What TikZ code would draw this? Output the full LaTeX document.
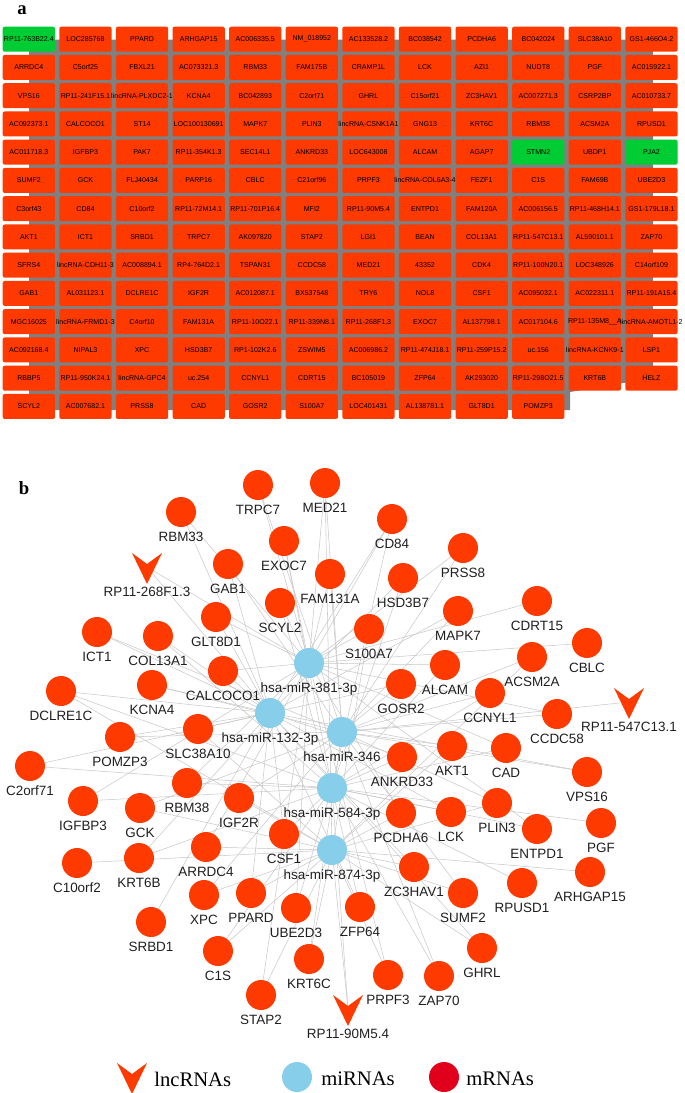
\documentclass[tikz,border=0pt]{standalone}
\usepackage{fontspec}
\setmainfont{Liberation Serif}
\setsansfont{Liberation Sans}
\usetikzlibrary{backgrounds}

\definecolor{nodered}{RGB}{255,58,0}
\definecolor{boxgreen}{RGB}{0,204,51}
\definecolor{mirblue}{RGB}{135,206,235}
\definecolor{legred}{RGB}{224,0,27}
\definecolor{edgegray}{RGB}{200,200,200}
\definecolor{gridgray}{RGB}{128,128,128}

\tikzset{
  genebox/.style={fill=nodered, rounded corners=1.5pt, minimum width=39.2pt, minimum height=18.75pt, inner sep=0pt},
  genetext/.style={font=\sffamily\fontsize{5.3}{6}\selectfont, inner sep=0pt},
  box1-1/.style={fill=boxgreen}, box5-10/.style={fill=boxgreen}, box5-12/.style={fill=boxgreen},
  mrna/.style={circle, fill=nodered, minimum size=22.5pt, inner sep=0pt},
  mirna/.style={circle, fill=mirblue, minimum size=22.5pt, inner sep=0pt},
  lnc/.style={circle, minimum size=22.5pt, inner sep=0pt},
  every label/.style={font=\sffamily\fontsize{10.1}{12}\selectfont, text=black!88},
  link/.style={draw=edgegray, line width=0.4pt},
  legtext/.style={font=\fontsize{15.5}{18}\selectfont, inner sep=0pt, anchor=west},
  panel/.style={font=\bfseries\fontsize{14}{16}\selectfont, inner sep=0pt},
  chevron/.pic={\fill[nodered] (-15,-14) -- (0,-3) -- (15,-14) -- (0,17) -- cycle;}
}

\def\generows{
 {RP11-763B22.4,LOC285768,PPARD,ARHGAP15,AC006335.5,NM\_018952,AC133528.2,BC038542,PCDHA6,BC042024,SLC38A10,GS1-466O4.2},
 {ARRDC4,C5orf25,FBXL21,AC073321.3,RBM33,FAM175B,CRAMP1L,LCK,AZI1,NUDT8,PGF,AC015922.1},
 {VPS16,RP11-241F15.1,lincRNA-PLXDC2-1,KCNA4,BC042893,C2orf71,GHRL,C15orf21,ZC3HAV1,AC007271.3,CSRP2BP,AC010733.7},
 {AC092373.1,CALCOCO1,ST14,LOC100130691,MAPK7,PLIN3,lincRNA-CSNK1A1,GNG13,KRT6C,RBM38,ACSM2A,RPUSD1},
 {AC011718.3,IGFBP3,PAK7,RP11-354K1.3,SEC14L1,ANKRD33,LOC643008,ALCAM,AGAP7,STMN2,UBDP1,PJA2},
 {SUMF2,GCK,FLJ40434,PARP16,CBLC,C21orf96,PRPF3,lincRNA-COL6A3-4,FEZF1,C1S,FAM69B,UBE2D3},
 {C3orf43,CD84,C10orf2,RP11-72M14.1,RP11-701P16.4,MFI2,RP11-90M5.4,ENTPD1,FAM120A,AC006156.5,RP11-468H14.1,GS1-179L18.1},
 {AKT1,ICT1,SRBD1,TRPC7,AK097820,STAP2,LGI1,BEAN,COL13A1,RP11-547C13.1,AL590101.1,ZAP70},
 {SFRS4,lincRNA-CDH11-3,AC008894.1,RP4-764D2.1,TSPAN31,CCDC58,MED21,43352,CDK4,RP11-100N20.1,LOC348926,C14orf109},
 {GAB1,AL031123.1,DCLRE1C,IGF2R,AC012087.1,BX537548,TRY6,NOL8,CSF1,AC095032.1,AC022311.1,RP11-191A15.4},
 {MGC16025,lincRNA-FRMD1-3,C4orf10,FAM131A,RP11-10O22.1,RP11-339N8.1,RP11-268F1.3,EXOC7,AL137798.1,AC017104.6,RP11-135M8\_\_A,lincRNA-AMOTL1-2},
 {AC092168.4,NIPAL3,XPC,HSD3B7,RP1-102K2.6,ZSWIM5,AC006986.2,RP11-474J18.1,RP11-259P15.2,uc.156,lincRNA-KCNK9-1,LSP1},
 {RBBP5,RP11-950K24.1,lincRNA-GPC4,uc.254,CCNYL1,CDRT15,BC105019,ZFP64,AK293020,RP11-298O21.5,KRT6B,HELZ},
 {SCYL2,AC007682.1,PRSS8,CAD,GOSR2,S100A7,LOC401431,AL138781.1,GLT8D1,POMZP3}}

\begin{document}
\begin{tikzpicture}[x=0.75pt, y=-0.75pt]
  \useasboundingbox (0,0) rectangle (685,1093);

  % Panel a: grid of genes
  \node[panel] (pa) at (22,10) {a};
  \fill[gridgray] (29,39.5) -- (653,39.5) -- (653,378) -- (570,392) -- (570,410) -- (29,410) -- cycle;
  \foreach \rowlist [count=\r] in \generows {
    \foreach \g [count=\c] in \rowlist {
      \node[genebox, box\r-\c/.try] (g\r-\c) at ({28.85+(\c-1)*56.6},{39.2+(\r-1)*28.25}) {};
    }
  }
  \foreach \rowlist [count=\r] in \generows {
    \foreach \g [count=\c] in \rowlist {
      \node[genetext] (t\r-\c) at (g\r-\c) {\g};
    }
  }

  % Panel b: network
  \node[panel] (pb) at (24,488) {b};

  % miRNAs
  \node[mirna, label=below:hsa-miR-381-3p] (mir381) at (309,663) {};
  \node[mirna, label=below:hsa-miR-132-3p] (mir132) at (270,713) {};
  \node[mirna, label=below:hsa-miR-346]    (mir346) at (342,732) {};
  \node[mirna, label=below:hsa-miR-584-3p] (mir584) at (332,788) {};
  \node[mirna, label=below:hsa-miR-874-3p] (mir874) at (332,850) {};

  % lncRNAs
  \node[lnc, label=below:RP11-268F1.3]  (lnc268) at (147,567) {};
  \node[lnc, label=below:RP11-547C13.1] (lnc547) at (629,702) {};
  \node[lnc, label=below:RP11-90M5.4]   (lnc90)  at (348,1009) {};
  \foreach \l in {lnc268,lnc547,lnc90}
    \pic at (\l) {chevron};

  % mRNAs
  \foreach \n/\x/\y in {
    TRPC7/258/485, MED21/325/483, RBM33/181/512, EXOC7/284/541, GAB1/228/564,
    FAM131A/330/574, SCYL2/280/603, GLT8D1/216/617, ICT1/97/632, COL13A1/158/636,
    CALCOCO1/223/671, KCNA4/152/685, DCLRE1C/61/691, SLC38A10/198/729, POMZP3/120/737,
    C2orf71/30/766, CD84/392/519, PRSS8/463/548, HSD3B7/403/578, CDRT15/537/601,
    MAPK7/458/611, S100A7/369/629, CBLC/587/643, ACSM2A/532/657, ALCAM/445/665,
    GOSR2/401/684, CCNYL1/490/693, CCDC58/557/714, ANKRD33/402/757, AKT1/452/746,
    CAD/506/748, VPS16/587/772, RBM38/187/783, IGF2R/239/798, IGFBP3/83/801,
    GCK/140/808, CSF1/284/834, ARRDC4/206/847, C10orf2/77/863, KRT6B/139/858,
    XPC/204/895, PPARD/251/893, UBE2D3/296/908, SRBD1/151/922, C1S/218/951,
    KRT6C/309/959, STAP2/261/995, ZFP64/360/907, PCDHA6/401/813, LCK/451/812,
    PLIN3/497/803, ENTPD1/537/829, PGF/601/823, ZC3HAV1/414/867, ARHGAP15/590/872,
    SUMF2/463/893, RPUSD1/522/883, GHRL/482/948, PRPF3/388/975, ZAP70/439/976}
    \node[mrna, label=below:\n] (\n) at (\x,\y) {};

  % interactions
  \begin{scope}[on background layer]
    \foreach \n/\hubs in {
      TRPC7/{mir381,mir346}, MED21/{mir381,mir346,mir874}, RBM33/{mir381,mir132},
      EXOC7/{mir381,mir584}, GAB1/{mir132,mir346}, FAM131A/{mir381,mir346},
      SCYL2/{mir381,mir584}, GLT8D1/{mir381,mir132}, ICT1/{mir132,mir346},
      COL13A1/{mir132,mir584}, CALCOCO1/{mir381,mir132}, KCNA4/{mir132,mir346},
      DCLRE1C/{mir132,mir584,mir874}, SLC38A10/{mir132,mir874}, POMZP3/{mir132,mir346},
      C2orf71/{mir132,mir584}, CD84/{mir381,mir132,mir584}, PRSS8/{mir381,mir346},
      HSD3B7/{mir132,mir584}, CDRT15/{mir381}, MAPK7/{mir132,mir346},
      S100A7/{mir381,mir874}, CBLC/{mir381}, ACSM2A/{mir346,mir874},
      ALCAM/{mir381,mir584}, GOSR2/{mir132,mir346}, CCNYL1/{mir346,mir584},
      CCDC58/{mir381,mir346}, ANKRD33/{mir132,mir584}, AKT1/{mir346,mir874},
      CAD/{mir381,mir584}, VPS16/{mir132,mir346}, RBM38/{mir381,mir584},
      IGF2R/{mir346,mir874}, IGFBP3/{mir381,mir584}, GCK/{mir346,mir874},
      CSF1/{mir132,mir584}, ARRDC4/{mir381,mir874}, C10orf2/{mir874},
      KRT6B/{mir132,mir584}, XPC/{mir346,mir874}, PPARD/{mir132,mir874},
      UBE2D3/{mir381,mir584}, SRBD1/{mir132}, C1S/{mir584,mir874},
      KRT6C/{mir346,mir874}, STAP2/{mir381,mir874}, ZFP64/{mir132,mir584},
      PCDHA6/{mir381,mir874}, LCK/{mir132,mir584}, PLIN3/{mir346,mir874},
      ENTPD1/{mir381,mir584}, PGF/{mir584}, ZC3HAV1/{mir132,mir874},
      ARHGAP15/{mir874}, SUMF2/{mir346,mir874}, RPUSD1/{mir584},
      GHRL/{mir132,mir874}, PRPF3/{mir381,mir874}, ZAP70/{mir346,mir584},
      lnc268/{mir381,mir132}, lnc547/{mir346}, lnc90/{mir874,mir584}}
      \foreach \h in \hubs
        \draw[link] (\n.center) -- (\h.center);
  \end{scope}

  % Legend
  \node[lnc] (leg-lnc) at (132,1077) {};
  \pic at (leg-lnc) {chevron};
  \node[legtext] (leg-lnc-t) at (154,1079) {lncRNAs};
  \node[mirna] (leg-mi) at (297,1077) {};
  \node[legtext] (leg-mi-t) at (321,1079) {miRNAs};
  \node[mrna, fill=legred] (leg-m) at (444,1077) {};
  \node[legtext] (leg-m-t) at (466,1079) {mRNAs};
\end{tikzpicture}
\end{document}
